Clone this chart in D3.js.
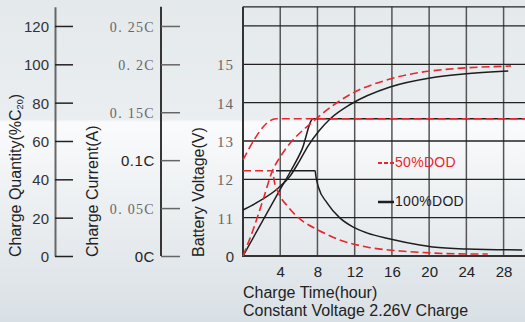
<!DOCTYPE html>
<html>
<head>
<meta charset="utf-8">
<script src="https://cdn.jsdelivr.net/npm/d3@7"></script>
<style>
  body { margin: 0; }
  svg { display: block; font-family: "Liberation Sans", Arial, sans-serif; }
</style>
</head>
<body>
<svg id="chart" width="525" height="322"></svg>
<script>
// ticks
const hourTicks = [4, 8, 12, 16, 20, 24, 28];
const hourGrid = [0, 4, 8, 12, 16, 20, 24, 28];
const quantityTicks = [0, 20, 40, 60, 80, 100, 120];
const currentTicks = [0, 0.05, 0.1, 0.15, 0.2, 0.25];
const currentLabels = ['0C', '0. 05C', '0.1C', '0. 15C', '0. 2C', '0. 25C'];
const voltageTicks = [0, 11, 12, 13, 14, 15];

// [hour, value] pairs
const voltage100 = [[0, 0], [3.98, 11.73], [5.16, 12.23], [6.34, 12.78], [7.53, 13.58], [30.3, 13.58]];
const voltage50 = [[0, 12.51], [3.55, 13.58], [30.3, 13.58]];
const quantity100 = [[0, 24.0], [1.6, 28.2], [3.8, 35.5], [5.1, 42.0], [6.0, 49.0], [7.0, 57.5], [8.2, 65.5],
  [9.35, 71.5], [11.6, 79.3], [15.8, 88.2], [20.1, 92.9], [23.7, 95.0], [28.5, 96.5]];
const quantity50 = [[0, 0], [1.08, 13.6], [2.15, 29.2], [3.2, 44.9], [4.0, 51.7], [7.85, 71.5], [11.6, 84.5],
  [15.8, 92.3], [20.1, 96.5], [28.8, 99.1]];
const current100 = [[3.55, 0.089], [7.74, 0.089], [7.85, 0.082], [8.1, 0.072], [9.03, 0.0555], [10.4, 0.0398],
  [11.8, 0.0304], [13.3, 0.0241], [15.8, 0.0178], [19.0, 0.0115], [20.4, 0.0094], [24.1, 0.0073], [30.0, 0.0063]];
const current50 = [[0, 0.089], [3.2, 0.089], [3.33, 0.0796], [3.76, 0.067], [4.84, 0.0513], [6.24, 0.0377],
  [8.06, 0.0272], [10.4, 0.0168], [13.3, 0.0094], [16.9, 0.0052], [20.4, 0.0031], [24.1, 0.0021], [26.3, 0.0021]];

const RED = '#e8262b';
const BLACK = '#1e1e1e';

const svg = d3.select('#chart');

// background
const grad = svg.append('defs').append('linearGradient')
  .attr('id', 'bg').attr('x1', 0).attr('y1', 0).attr('x2', 0).attr('y2', 1);
[[0, '#e4e9ec'], [0.37, '#eaeef1'], [0.38, '#fafbfc'], [0.6, '#eef1f3'], [1, '#d9e0e5']]
  .forEach(s => grad.append('stop').attr('offset', s[0]).attr('stop-color', s[1]));
svg.append('rect').attr('width', 525).attr('height', 322).attr('fill', 'url(#bg)');

// scales
const x = d3.scaleLinear().domain([0, 30.3]).range([243, 525]);
const yQ = d3.scaleLinear().domain([0, 130]).range([256, 6.8]);
const yI = d3.scaleLinear().domain([0, 0.2, 0.25]).range([yQ(0), yQ(100), yQ(120)]);
const yV = d3.scaleLinear().domain([0, 11, 16]).range([yQ(0), yQ(20), yQ(120)]);

// grid
const grid = svg.append('g');
grid.selectAll('line.v')
  .data(hourGrid.slice(1))
  .enter().append('line')
  .attr('x1', d => x(d)).attr('x2', d => x(d))
  .attr('y1', yQ(130)).attr('y2', yQ(0))
  .attr('stroke', '#555').attr('stroke-width', 1.5);
grid.selectAll('line.h')
  .data(quantityTicks.slice(1).concat([130]))
  .enter().append('line')
  .attr('x1', x(0)).attr('x2', 525)
  .attr('y1', d => yQ(d)).attr('y2', d => yQ(d))
  .attr('stroke', '#222').attr('stroke-width', 1.3);
grid.append('line')
  .attr('x1', x(0)).attr('x2', x(0)).attr('y1', yQ(130)).attr('y2', yQ(0))
  .attr('stroke', '#333').attr('stroke-width', 2);
grid.append('line')
  .attr('x1', x(0) - 1).attr('x2', 525).attr('y1', yQ(0)).attr('y2', yQ(0))
  .attr('stroke', '#333').attr('stroke-width', 2);

// charge quantity axis
const qAxis = svg.append('g')
  .attr('transform', 'translate(55,0)')
  .call(d3.axisLeft(yQ).tickValues(quantityTicks).tickSize(-18).tickPadding(6).tickSizeOuter(0));
qAxis.select('.domain').attr('stroke', '#666').attr('stroke-width', 2);
qAxis.selectAll('.tick line').attr('stroke', '#222').attr('stroke-width', 1.5);
qAxis.selectAll('text')
  .attr('font-family', '"Liberation Sans", Arial, sans-serif')
  .attr('font-size', 15).attr('fill', '#333').attr('dy', '0.36em');

// charge current axis
const serifLabel = i => currentLabels[i].indexOf(' ') >= 0;
const iAxis = svg.append('g')
  .attr('transform', 'translate(161,0)')
  .call(d3.axisLeft(yI).tickValues(currentTicks).tickSize(-19).tickPadding(6).tickSizeOuter(0)
    .tickFormat((d, i) => currentLabels[i]));
iAxis.select('.domain').attr('d', `M0,${yQ(0)}V${yQ(130)}`).attr('stroke', '#222').attr('stroke-width', 1.8);
iAxis.selectAll('.tick line').attr('stroke', '#666').attr('stroke-width', 1.5);
iAxis.selectAll('text')
  .attr('font-family', (d, i) => serifLabel(i) ? '"Liberation Serif", "DejaVu Serif", serif' : '"Liberation Sans", Arial, sans-serif')
  .attr('font-size', (d, i) => serifLabel(i) ? 14 : 15)
  .attr('letter-spacing', (d, i) => serifLabel(i) ? 1.3 : 0.6)
  .attr('fill', (d, i) => serifLabel(i) ? '#666' : '#222')
  .attr('dy', '0.36em');

// battery voltage axis (labels only)
const vAxis = svg.append('g')
  .attr('transform', `translate(${x(0)},0)`)
  .call(d3.axisLeft(yV).tickValues(voltageTicks).tickSize(0).tickPadding(9));
vAxis.select('.domain').remove();
vAxis.selectAll('text')
  .attr('font-family', d => d === 0 ? '"Liberation Sans", Arial, sans-serif' : '"Liberation Serif", "DejaVu Serif", serif')
  .attr('font-size', 15)
  .attr('letter-spacing', d => d === 0 ? 0 : 1)
  .attr('fill', d => d === 0 ? '#333' : '#666')
  .attr('dy', '0.36em');

// time axis labels
const tAxis = svg.append('g')
  .attr('transform', `translate(0,${yQ(0)})`)
  .call(d3.axisBottom(x).tickValues(hourTicks).tickSize(0).tickPadding(10));
tAxis.select('.domain').remove();
tAxis.selectAll('text')
  .attr('font-family', '"Liberation Sans", Arial, sans-serif')
  .attr('font-size', 15).attr('fill', '#222');

// axis titles (rotated, reading bottom to top, ending near the zero line)
const titles = [
  { x: 21, label: 'Charge Quantity(%C', sub: '20' },
  { x: 98, label: 'Charge Current(A)' },
  { x: 204, label: 'Battery Voltage(V)' }
];
titles.forEach(t => {
  const txt = svg.append('text')
    .attr('transform', `translate(${t.x},${yQ(0) + 1}) rotate(-90)`)
    .attr('text-anchor', 'start')
    .attr('font-size', 16)
    .attr('fill', '#222');
  txt.append('tspan').text(t.label);
  if (t.sub) {
    txt.append('tspan').attr('font-size', 9).attr('dy', 2).text(t.sub);
    txt.append('tspan').attr('dy', -2).text(')');
  }
});

svg.append('text').attr('x', 243).attr('y', 298)
  .attr('font-size', 16).attr('fill', '#222').text('Charge Time(hour)');
svg.append('text').attr('x', 243).attr('y', 315.5)
  .attr('font-size', 16).attr('fill', '#222').text('Constant Voltage 2.26V Charge');

// curves
const curve = (data, yScale, color, dashed) => {
  svg.append('path')
    .datum(data)
    .attr('fill', 'none')
    .attr('stroke', color)
    .attr('stroke-width', dashed ? 1.6 : 1.5)
    .attr('stroke-dasharray', dashed ? '8,4' : null)
    .attr('d', d3.line()
      .x(d => x(d[0]))
      .y(d => yScale(d[1]))
      .curve(d3.curveMonotoneX));
};
curve(voltage100, yV, BLACK, false);
curve(quantity100, yQ, BLACK, false);
curve(current100, yI, BLACK, false);
curve(voltage50, yV, RED, true);
curve(quantity50, yQ, RED, true);
curve(current50, yI, RED, true);

// legend
const legend = [
  { label: '50%DOD', color: RED, dashed: true, y: 163 },
  { label: '100%DOD', color: BLACK, dashed: false, y: 202 }
];
legend.forEach(l => {
  svg.append('line')
    .attr('x1', 378).attr('x2', 394).attr('y1', l.y).attr('y2', l.y)
    .attr('stroke', l.color)
    .attr('stroke-width', l.dashed ? 2 : 2.5)
    .attr('stroke-dasharray', l.dashed ? '4,2' : null);
  svg.append('text')
    .attr('x', 395).attr('y', l.y + 3.5)
    .attr('font-size', 14).attr('fill', l.color)
    .attr('letter-spacing', 0.3)
    .text(l.label);
});
</script>
</body>
</html>
